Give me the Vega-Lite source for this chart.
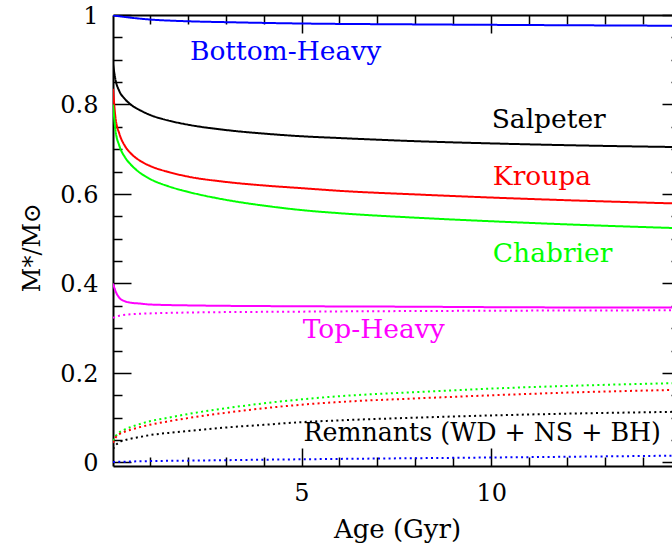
{
  "$schema": "https://vega.github.io/schema/vega-lite/v6.json",
  "autosize": {"type": "none"},
  "padding": {"left": 113, "top": 15, "right": 0, "bottom": 82},
  "width": 559,
  "height": 451,
  "background": "white",
  "config": {"view": {"stroke": null}},
  "datasets": {
    "curves": [
      {"imf": "Salpeter", "part": "stars", "age": 0.034, "mass": 0.89},
      {"imf": "Salpeter", "part": "stars", "age": 0.1, "mass": 0.855},
      {"imf": "Salpeter", "part": "stars", "age": 0.2, "mass": 0.83},
      {"imf": "Salpeter", "part": "stars", "age": 0.35, "mass": 0.812},
      {"imf": "Salpeter", "part": "stars", "age": 0.5, "mass": 0.8},
      {"imf": "Salpeter", "part": "stars", "age": 0.75, "mass": 0.787},
      {"imf": "Salpeter", "part": "stars", "age": 1, "mass": 0.777},
      {"imf": "Salpeter", "part": "stars", "age": 1.5, "mass": 0.764},
      {"imf": "Salpeter", "part": "stars", "age": 2, "mass": 0.755},
      {"imf": "Salpeter", "part": "stars", "age": 3, "mass": 0.743},
      {"imf": "Salpeter", "part": "stars", "age": 4, "mass": 0.735},
      {"imf": "Salpeter", "part": "stars", "age": 5, "mass": 0.729},
      {"imf": "Salpeter", "part": "stars", "age": 6, "mass": 0.725},
      {"imf": "Salpeter", "part": "stars", "age": 8, "mass": 0.718},
      {"imf": "Salpeter", "part": "stars", "age": 10, "mass": 0.713},
      {"imf": "Salpeter", "part": "stars", "age": 12, "mass": 0.709},
      {"imf": "Salpeter", "part": "stars", "age": 14.76, "mass": 0.705},

      {"imf": "Kroupa", "part": "stars", "age": 0.034, "mass": 0.835},
      {"imf": "Kroupa", "part": "stars", "age": 0.1, "mass": 0.77},
      {"imf": "Kroupa", "part": "stars", "age": 0.2, "mass": 0.735},
      {"imf": "Kroupa", "part": "stars", "age": 0.35, "mass": 0.707},
      {"imf": "Kroupa", "part": "stars", "age": 0.5, "mass": 0.691},
      {"imf": "Kroupa", "part": "stars", "age": 0.75, "mass": 0.674},
      {"imf": "Kroupa", "part": "stars", "age": 1, "mass": 0.663},
      {"imf": "Kroupa", "part": "stars", "age": 1.5, "mass": 0.649},
      {"imf": "Kroupa", "part": "stars", "age": 2, "mass": 0.639},
      {"imf": "Kroupa", "part": "stars", "age": 3, "mass": 0.627},
      {"imf": "Kroupa", "part": "stars", "age": 4, "mass": 0.619},
      {"imf": "Kroupa", "part": "stars", "age": 5, "mass": 0.613},
      {"imf": "Kroupa", "part": "stars", "age": 6, "mass": 0.607},
      {"imf": "Kroupa", "part": "stars", "age": 8, "mass": 0.599},
      {"imf": "Kroupa", "part": "stars", "age": 10, "mass": 0.592},
      {"imf": "Kroupa", "part": "stars", "age": 12, "mass": 0.586},
      {"imf": "Kroupa", "part": "stars", "age": 14.76, "mass": 0.579},

      {"imf": "Chabrier", "part": "stars", "age": 0.034, "mass": 0.8},
      {"imf": "Chabrier", "part": "stars", "age": 0.1, "mass": 0.742},
      {"imf": "Chabrier", "part": "stars", "age": 0.2, "mass": 0.708},
      {"imf": "Chabrier", "part": "stars", "age": 0.35, "mass": 0.682},
      {"imf": "Chabrier", "part": "stars", "age": 0.5, "mass": 0.666},
      {"imf": "Chabrier", "part": "stars", "age": 0.75, "mass": 0.647},
      {"imf": "Chabrier", "part": "stars", "age": 1, "mass": 0.634},
      {"imf": "Chabrier", "part": "stars", "age": 1.5, "mass": 0.617},
      {"imf": "Chabrier", "part": "stars", "age": 2, "mass": 0.605},
      {"imf": "Chabrier", "part": "stars", "age": 3, "mass": 0.587},
      {"imf": "Chabrier", "part": "stars", "age": 4, "mass": 0.574},
      {"imf": "Chabrier", "part": "stars", "age": 5, "mass": 0.564},
      {"imf": "Chabrier", "part": "stars", "age": 6, "mass": 0.557},
      {"imf": "Chabrier", "part": "stars", "age": 8, "mass": 0.547},
      {"imf": "Chabrier", "part": "stars", "age": 10, "mass": 0.539},
      {"imf": "Chabrier", "part": "stars", "age": 12, "mass": 0.532},
      {"imf": "Chabrier", "part": "stars", "age": 14.76, "mass": 0.524},

      {"imf": "Bottom-Heavy", "part": "stars", "age": 0.034, "mass": 0.999},
      {"imf": "Bottom-Heavy", "part": "stars", "age": 0.5, "mass": 0.994},
      {"imf": "Bottom-Heavy", "part": "stars", "age": 1, "mass": 0.99},
      {"imf": "Bottom-Heavy", "part": "stars", "age": 2, "mass": 0.986},
      {"imf": "Bottom-Heavy", "part": "stars", "age": 3, "mass": 0.984},
      {"imf": "Bottom-Heavy", "part": "stars", "age": 5, "mass": 0.981},
      {"imf": "Bottom-Heavy", "part": "stars", "age": 8, "mass": 0.979},
      {"imf": "Bottom-Heavy", "part": "stars", "age": 10, "mass": 0.978},
      {"imf": "Bottom-Heavy", "part": "stars", "age": 14.76, "mass": 0.976},

      {"imf": "Top-Heavy", "part": "stars", "age": 0.034, "mass": 0.4},
      {"imf": "Top-Heavy", "part": "stars", "age": 0.1, "mass": 0.383},
      {"imf": "Top-Heavy", "part": "stars", "age": 0.2, "mass": 0.368},
      {"imf": "Top-Heavy", "part": "stars", "age": 0.35, "mass": 0.36},
      {"imf": "Top-Heavy", "part": "stars", "age": 0.5, "mass": 0.357},
      {"imf": "Top-Heavy", "part": "stars", "age": 0.75, "mass": 0.355},
      {"imf": "Top-Heavy", "part": "stars", "age": 1, "mass": 0.353},
      {"imf": "Top-Heavy", "part": "stars", "age": 2, "mass": 0.351},
      {"imf": "Top-Heavy", "part": "stars", "age": 3, "mass": 0.35},
      {"imf": "Top-Heavy", "part": "stars", "age": 5, "mass": 0.349},
      {"imf": "Top-Heavy", "part": "stars", "age": 8, "mass": 0.348},
      {"imf": "Top-Heavy", "part": "stars", "age": 10, "mass": 0.347},
      {"imf": "Top-Heavy", "part": "stars", "age": 14.76, "mass": 0.346},

      {"imf": "Top-Heavy", "part": "remnants", "age": 0.034, "mass": 0.323},
      {"imf": "Top-Heavy", "part": "remnants", "age": 0.2, "mass": 0.328},
      {"imf": "Top-Heavy", "part": "remnants", "age": 0.5, "mass": 0.331},
      {"imf": "Top-Heavy", "part": "remnants", "age": 1, "mass": 0.333},
      {"imf": "Top-Heavy", "part": "remnants", "age": 2, "mass": 0.335},
      {"imf": "Top-Heavy", "part": "remnants", "age": 5, "mass": 0.337},
      {"imf": "Top-Heavy", "part": "remnants", "age": 10, "mass": 0.339},
      {"imf": "Top-Heavy", "part": "remnants", "age": 14.76, "mass": 0.34},

      {"imf": "Chabrier", "part": "remnants", "age": 0.034, "mass": 0.048},
      {"imf": "Chabrier", "part": "remnants", "age": 0.1, "mass": 0.058},
      {"imf": "Chabrier", "part": "remnants", "age": 0.2, "mass": 0.067},
      {"imf": "Chabrier", "part": "remnants", "age": 0.35, "mass": 0.074},
      {"imf": "Chabrier", "part": "remnants", "age": 0.5, "mass": 0.079},
      {"imf": "Chabrier", "part": "remnants", "age": 0.75, "mass": 0.086},
      {"imf": "Chabrier", "part": "remnants", "age": 1, "mass": 0.092},
      {"imf": "Chabrier", "part": "remnants", "age": 1.5, "mass": 0.1},
      {"imf": "Chabrier", "part": "remnants", "age": 2, "mass": 0.108},
      {"imf": "Chabrier", "part": "remnants", "age": 3, "mass": 0.121},
      {"imf": "Chabrier", "part": "remnants", "age": 4, "mass": 0.132},
      {"imf": "Chabrier", "part": "remnants", "age": 5, "mass": 0.141},
      {"imf": "Chabrier", "part": "remnants", "age": 6, "mass": 0.148},
      {"imf": "Chabrier", "part": "remnants", "age": 8, "mass": 0.157},
      {"imf": "Chabrier", "part": "remnants", "age": 10, "mass": 0.165},
      {"imf": "Chabrier", "part": "remnants", "age": 12, "mass": 0.171},
      {"imf": "Chabrier", "part": "remnants", "age": 14.76, "mass": 0.177},

      {"imf": "Kroupa", "part": "remnants", "age": 0.034, "mass": 0.044},
      {"imf": "Kroupa", "part": "remnants", "age": 0.1, "mass": 0.055},
      {"imf": "Kroupa", "part": "remnants", "age": 0.2, "mass": 0.063},
      {"imf": "Kroupa", "part": "remnants", "age": 0.35, "mass": 0.069},
      {"imf": "Kroupa", "part": "remnants", "age": 0.5, "mass": 0.073},
      {"imf": "Kroupa", "part": "remnants", "age": 0.75, "mass": 0.079},
      {"imf": "Kroupa", "part": "remnants", "age": 1, "mass": 0.084},
      {"imf": "Kroupa", "part": "remnants", "age": 1.5, "mass": 0.092},
      {"imf": "Kroupa", "part": "remnants", "age": 2, "mass": 0.099},
      {"imf": "Kroupa", "part": "remnants", "age": 3, "mass": 0.111},
      {"imf": "Kroupa", "part": "remnants", "age": 4, "mass": 0.121},
      {"imf": "Kroupa", "part": "remnants", "age": 5, "mass": 0.129},
      {"imf": "Kroupa", "part": "remnants", "age": 6, "mass": 0.135},
      {"imf": "Kroupa", "part": "remnants", "age": 8, "mass": 0.143},
      {"imf": "Kroupa", "part": "remnants", "age": 10, "mass": 0.15},
      {"imf": "Kroupa", "part": "remnants", "age": 12, "mass": 0.156},
      {"imf": "Kroupa", "part": "remnants", "age": 14.76, "mass": 0.162},

      {"imf": "Salpeter", "part": "remnants", "age": 0.034, "mass": 0.03},
      {"imf": "Salpeter", "part": "remnants", "age": 0.1, "mass": 0.038},
      {"imf": "Salpeter", "part": "remnants", "age": 0.2, "mass": 0.045},
      {"imf": "Salpeter", "part": "remnants", "age": 0.35, "mass": 0.05},
      {"imf": "Salpeter", "part": "remnants", "age": 0.5, "mass": 0.053},
      {"imf": "Salpeter", "part": "remnants", "age": 0.75, "mass": 0.057},
      {"imf": "Salpeter", "part": "remnants", "age": 1, "mass": 0.061},
      {"imf": "Salpeter", "part": "remnants", "age": 1.5, "mass": 0.066},
      {"imf": "Salpeter", "part": "remnants", "age": 2, "mass": 0.07},
      {"imf": "Salpeter", "part": "remnants", "age": 3, "mass": 0.078},
      {"imf": "Salpeter", "part": "remnants", "age": 4, "mass": 0.084},
      {"imf": "Salpeter", "part": "remnants", "age": 5, "mass": 0.09},
      {"imf": "Salpeter", "part": "remnants", "age": 6, "mass": 0.094},
      {"imf": "Salpeter", "part": "remnants", "age": 8, "mass": 0.1},
      {"imf": "Salpeter", "part": "remnants", "age": 10, "mass": 0.105},
      {"imf": "Salpeter", "part": "remnants", "age": 12, "mass": 0.109},
      {"imf": "Salpeter", "part": "remnants", "age": 14.76, "mass": 0.113},

      {"imf": "Bottom-Heavy", "part": "remnants", "age": 0.034, "mass": 0.001},
      {"imf": "Bottom-Heavy", "part": "remnants", "age": 1, "mass": 0.003},
      {"imf": "Bottom-Heavy", "part": "remnants", "age": 2, "mass": 0.004},
      {"imf": "Bottom-Heavy", "part": "remnants", "age": 5, "mass": 0.007},
      {"imf": "Bottom-Heavy", "part": "remnants", "age": 10, "mass": 0.011},
      {"imf": "Bottom-Heavy", "part": "remnants", "age": 14.76, "mass": 0.015}
    ],
    "labels": [
      {"label": "Bottom-Heavy", "imf": "Bottom-Heavy", "age": 2.06, "mass": 0.899},
      {"label": "Salpeter", "imf": "Salpeter", "age": 10.01, "mass": 0.748},
      {"label": "Kroupa", "imf": "Kroupa", "age": 10.04, "mass": 0.62},
      {"label": "Chabrier", "imf": "Chabrier", "age": 10.04, "mass": 0.4486},
      {"label": "Top-Heavy", "imf": "Top-Heavy", "age": 5.03, "mass": 0.2774},
      {"label": "Remnants (WD + NS + BH)", "imf": "Remnants", "age": 5.05, "mass": 0.0478}
    ]
  },
  "layer": [
    {
      "data": {"name": "curves"},
      "mark": {"type": "line", "strokeWidth": 2, "clip": true, "interpolate": "monotone"},
      "encoding": {
        "x": {
          "field": "age", "type": "quantitative",
          "scale": {"domain": [0.034, 14.76], "nice": false, "zero": false},
          "axis": {
            "orient": "bottom",
            "values": [1, 2, 3, 4, 5, 6, 7, 8, 9, 10, 11, 12, 13, 14],
            "grid": false,
            "domainColor": "black", "domainWidth": 2,
            "tickColor": "black", "tickWidth": 1.5,
            "tickSize": {"condition": {"test": "datum.value % 5 === 0", "value": -18}, "value": -9},
            "labelExpr": "datum.value % 5 === 0 ? datum.label : ''",
            "labelFont": "DejaVu Serif", "labelFontSize": 24, "labelColor": "black",
            "labelPadding": 33.5, "labelFlush": false, "labelOverlap": false,
            "title": "Age (Gyr)",
            "titleFont": "DejaVu Serif", "titleFontSize": 26, "titleFontWeight": "normal", "titleColor": "black",
            "titleX": 284, "titleY": 71, "titleBaseline": "alphabetic", "titleAlign": "center"
          }
        },
        "y": {
          "field": "mass", "type": "quantitative",
          "scale": {"domain": [-0.008, 1.0], "nice": false, "zero": false},
          "axis": {
            "orient": "left",
            "values": [0, 0.05, 0.1, 0.15, 0.2, 0.25, 0.3, 0.35, 0.4, 0.45, 0.5, 0.55, 0.6, 0.65, 0.7, 0.75, 0.8, 0.85, 0.9, 0.95, 1],
            "grid": false,
            "domainColor": "black", "domainWidth": 2,
            "tickColor": "black", "tickWidth": 1.5,
            "tickSize": {"condition": {"test": "abs(datum.value*5 - round(datum.value*5)) < 1e-6", "value": -18}, "value": -9},
            "labelExpr": "abs(datum.value*5 - round(datum.value*5)) < 1e-6 ? format(datum.value, '~g') : ''",
            "labelFont": "DejaVu Serif", "labelFontSize": 24, "labelColor": "black",
            "labelPadding": 33, "labelFlush": false, "labelOverlap": false,
            "labelAlign": "right", "labelBaseline": "middle", "labelOffset": 1.5,
            "title": "M*/M⊙",
            "titleFont": "DejaVu Serif", "titleFontSize": 24, "titleFontWeight": "normal", "titleColor": "black",
            "titleAngle": -90, "titleX": -74, "titleY": 232, "titleBaseline": "alphabetic", "titleAlign": "center"
          }
        },
        "color": {
          "field": "imf", "type": "nominal",
          "scale": {
            "domain": ["Bottom-Heavy", "Salpeter", "Kroupa", "Chabrier", "Top-Heavy", "Remnants"],
            "range": ["#0000ff", "#000000", "#ff0000", "#00ff00", "#ff00ff", "#000000"]
          },
          "legend": null
        },
        "strokeDash": {
          "field": "part", "type": "nominal",
          "scale": {"domain": ["stars", "remnants"], "range": [[1, 0], [2, 3.3]]},
          "legend": null
        }
      }
    },
    {
      "data": {"name": "labels"},
      "mark": {"type": "text", "align": "left", "baseline": "alphabetic", "font": "DejaVu Serif"},
      "encoding": {
        "x": {
          "field": "age", "type": "quantitative",
          "scale": {"domain": [0.034, 14.76], "nice": false, "zero": false},
          "axis": {
            "orient": "top",
            "values": [1, 2, 3, 4, 5, 6, 7, 8, 9, 10, 11, 12, 13, 14],
            "grid": false, "labels": false, "title": null,
            "domainColor": "black", "domainWidth": 2,
            "tickColor": "black", "tickWidth": 1.5,
            "tickSize": {"condition": {"test": "datum.value % 5 === 0", "value": -18}, "value": -9}
          }
        },
        "y": {
          "field": "mass", "type": "quantitative",
          "scale": {"domain": [-0.008, 1.0], "nice": false, "zero": false},
          "axis": {
            "orient": "right", "offset": 8,
            "values": [0, 0.05, 0.1, 0.15, 0.2, 0.25, 0.3, 0.35, 0.4, 0.45, 0.5, 0.55, 0.6, 0.65, 0.7, 0.75, 0.8, 0.85, 0.9, 0.95, 1],
            "grid": false, "labels": false, "title": null,
            "domainColor": "black", "domainWidth": 2,
            "tickColor": "black", "tickWidth": 1.5,
            "tickSize": {"condition": {"test": "abs(datum.value*5 - round(datum.value*5)) < 1e-6", "value": -18}, "value": -9}
          }
        },
        "text": {"field": "label", "type": "nominal"},
        "size": {"condition": {"test": "datum.imf === 'Remnants'", "value": 25.3}, "value": 26.5},
        "color": {"field": "imf", "type": "nominal", "legend": null}
      }
    }
  ],
  "resolve": {"scale": {"x": "shared", "y": "shared", "color": "shared"}, "axis": {"x": "independent", "y": "independent"}}
}
